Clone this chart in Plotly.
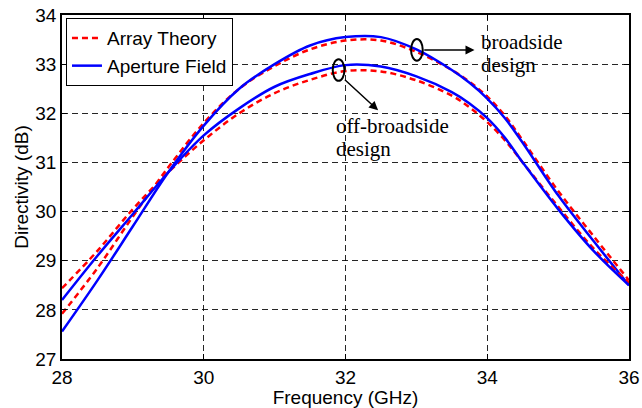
import plotly.graph_objects as go

freq = [28, 28.5, 29, 29.5, 30, 30.5, 31, 31.5, 32, 32.5, 33, 33.5, 33.75, 34, 34.25, 34.5, 35, 35.5, 36]

broad_theory = [27.92, 28.85, 29.9, 30.9, 31.8, 32.5, 32.96, 33.3, 33.48, 33.48, 33.25, 32.88, 32.64, 32.34, 31.95, 31.45, 30.42, 29.5, 28.6]
broad_aperture = [27.56, 28.6, 29.7, 30.8, 31.75, 32.5, 33.0, 33.38, 33.55, 33.55, 33.3, 32.88, 32.62, 32.3, 31.9, 31.4, 30.33, 29.4, 28.5]
off_theory = [28.44, 29.2, 30.05, 30.8, 31.45, 32.0, 32.41, 32.68, 32.86, 32.85, 32.67, 32.36, 32.12, 31.82, 31.45, 31.0, 30.1, 29.25, 28.55]
off_aperture = [28.2, 29.1, 29.95, 30.8, 31.55, 32.1, 32.54, 32.8, 32.98, 32.95, 32.75, 32.43, 32.2, 31.9, 31.5, 31.0, 30.05, 29.2, 28.5]

x_ticks = [28, 30, 32, 34, 36]
y_ticks = [27, 28, 29, 30, 31, 32, 33, 34]

RED = "#ff0000"
BLUE = "#0000ff"
dash = "6px,4px"
SANS = "Liberation Sans, Arial"

fig = go.Figure()
fig.add_trace(go.Scatter(x=freq, y=broad_theory, mode="lines", name="Array Theory",
                         legendgroup="t", line=dict(color=RED, width=2.5, dash=dash, shape="spline")))
fig.add_trace(go.Scatter(x=freq, y=broad_aperture, mode="lines", name="Aperture Field",
                         legendgroup="a", line=dict(color=BLUE, width=2.5, shape="spline")))
fig.add_trace(go.Scatter(x=freq, y=off_theory, mode="lines", name="Array Theory", showlegend=False,
                         legendgroup="t", line=dict(color=RED, width=2.5, dash=dash, shape="spline")))
fig.add_trace(go.Scatter(x=freq, y=off_aperture, mode="lines", name="Aperture Field", showlegend=False,
                         legendgroup="a", line=dict(color=BLUE, width=2.5, shape="spline")))

axis_common = dict(showline=True, linecolor="black", linewidth=1.5, mirror="allticks",
                   ticks="inside", ticklen=5, tickcolor="black", automargin=False,
                   showgrid=True, gridcolor="rgba(0,0,0,0.85)", gridwidth=1, griddash=dash,
                   zeroline=False, tickfont=dict(family=SANS, size=19, color="black"))

fig.update_xaxes(range=[28, 36], tickvals=x_ticks, ticktext=[str(v) for v in x_ticks],
                 title=dict(text="Frequency (GHz)", font=dict(family=SANS, size=19, color="black"),
                            standoff=2), **axis_common)
fig.update_yaxes(range=[27, 34], tickvals=y_ticks, ticktext=[str(v) for v in y_ticks],
                 title=dict(text="Directivity (dB)", font=dict(family=SANS, size=19, color="black"),
                            standoff=2), **axis_common)

serif = dict(family="Liberation Serif, Times New Roman", size=21, color="black")
ann = [
    dict(x=33.88, y=33.45, text="broadside"),
    dict(x=33.88, y=32.98, text="design"),
    dict(x=31.84, y=31.74, text="off-broadside"),
    dict(x=31.84, y=31.28, text="design"),
]
annotations = [dict(a, xref="x", yref="y", xanchor="left", yanchor="middle", showarrow=False, font=serif)
               for a in ann]
annotations.append(dict(x=33.82, y=33.29, ax=33.09, ay=33.29, xref="x", yref="y", axref="x", ayref="y",
                        showarrow=True, arrowhead=2, arrowsize=1.2, arrowwidth=1.5, arrowcolor="black", text=""))
annotations.append(dict(x=32.46, y=32.06, ax=31.97, ay=32.71, xref="x", yref="y", axref="x", ayref="y",
                        showarrow=True, arrowhead=2, arrowsize=1.2, arrowwidth=1.5, arrowcolor="black", text=""))

shapes = [
    dict(type="circle", xref="x", yref="y", x0=32.925, x1=33.09, y0=33.07, y1=33.51,
         line=dict(color="black", width=2)),
    dict(type="circle", xref="x", yref="y", x0=31.82, x1=31.985, y0=32.66, y1=33.10,
         line=dict(color="black", width=2)),
]

fig.update_layout(
    width=642, height=408,
    margin=dict(l=62, r=13, t=15, b=49, autoexpand=False),
    paper_bgcolor="white", plot_bgcolor="white",
    showlegend=True,
    legend=dict(x=0.007, y=0.991, xanchor="left", yanchor="top",
                bgcolor="white", bordercolor="black", borderwidth=1,
                font=dict(family=SANS, size=19, color="black"),
                tracegroupgap=0, itemwidth=30),
    annotations=annotations,
    shapes=shapes,
)

fig.write_html("out.html")
